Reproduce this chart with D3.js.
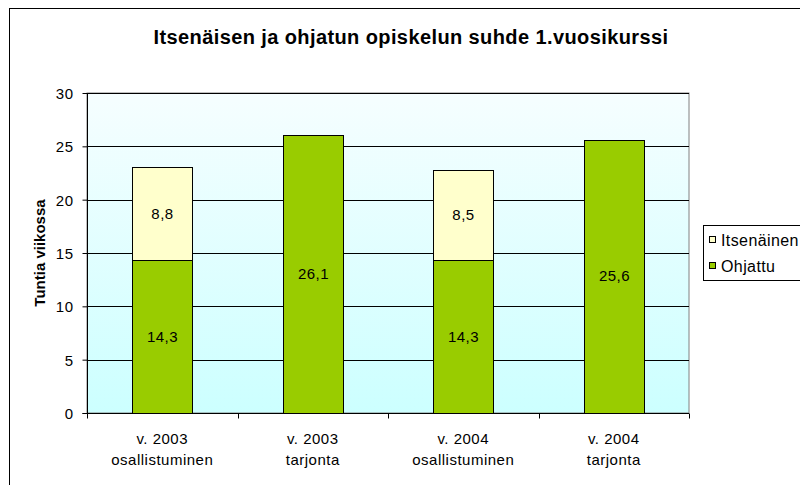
<!DOCTYPE html>
<html><head><meta charset="utf-8">
<script src="https://cdn.jsdelivr.net/npm/d3@7"></script>
<style>body{margin:0;background:#fff}svg{display:block;font-family:"Liberation Sans",Arial,sans-serif}</style>
</head><body><svg id="c" width="800" height="485"></svg>
<script>
const categories = [["v. 2003","osallistuminen"],["v. 2003","tarjonta"],["v. 2004","osallistuminen"],["v. 2004","tarjonta"]];
const ohjattu = [14.3, 26.1, 14.3, 25.6];
const itsenainen = [8.8, 0, 8.5, 0];
const seriesNames = ["Itsenäinen","Ohjattu"];
const yTicks = [0,5,10,15,20,25,30];

const svg = d3.select("#c");
const L=87,R=689,T=93,B=413;
const FS=15, LS=0.5;
svg.append("rect").attr("x",9.5).attr("y",8.5).attr("width",900).attr("height",600).attr("fill","#fff").attr("stroke","#000").attr("stroke-width",1);

const defs = svg.append("defs");
const g = defs.append("linearGradient").attr("id","bg").attr("x1",0).attr("y1",0).attr("x2",0).attr("y2",1);
g.append("stop").attr("offset","0%").attr("stop-color","#f6feff");
g.append("stop").attr("offset","100%").attr("stop-color","#ccffff");

const x = d3.scaleBand().domain(d3.range(categories.length)).range([L,R]).paddingInner(0.6).paddingOuter(0.3);
const xb = d3.scaleBand().domain(d3.range(categories.length)).range([L,R]);
const y = d3.scaleLinear().domain([0,30]).range([B,T]);

svg.append("rect").attr("x",L).attr("y",T).attr("width",R-L).attr("height",B-T).attr("fill","url(#bg)").attr("stroke","#808080");

svg.append("g").selectAll("line").data(yTicks.filter(d=>d>0)).join("line")
  .attr("x1",L).attr("x2",R).attr("y1",d=>Math.round(y(d))+0.5).attr("y2",d=>Math.round(y(d))+0.5).attr("stroke","#000");

const bars = svg.append("g");
function lbl(xp, yp, t){
  bars.append("text").attr("x",xp).attr("y",yp).attr("text-anchor","middle").attr("font-size",FS).attr("letter-spacing",LS).text(t);
}
categories.forEach((c,i)=>{
  const bx = Math.round(x(i))+0.5, bw = Math.round(x.bandwidth());
  const y0=y(0), y1=y(ohjattu[i]);
  bars.append("rect").attr("x",bx).attr("y",Math.round(y1)+0.5).attr("width",bw).attr("height",Math.round(y0)-Math.round(y1)).attr("fill","#99cc00").attr("stroke","#000");
  lbl(bx+bw/2, (y0+y1)/2+5, String(ohjattu[i]).replace(".",","));
  if(itsenainen[i]>0){
    const y2=y(ohjattu[i]+itsenainen[i]);
    bars.append("rect").attr("x",bx).attr("y",Math.round(y2)+0.5).attr("width",bw).attr("height",Math.round(y1)-Math.round(y2)).attr("fill","#ffffcc").attr("stroke","#000");
    lbl(bx+bw/2, (y1+y2)/2+5, String(itsenainen[i]).replace(".",","));
  }
});

// y axis
const ya = svg.append("g").attr("transform",`translate(${L+0.5},0)`).call(d3.axisLeft(y).tickValues(yTicks).tickSize(5).tickPadding(9));
ya.select(".domain").attr("stroke","#000").attr("d",`M-5,${B+0.5}H0V${T}`);
ya.selectAll(".tick line").attr("stroke","#000");
ya.selectAll("text").attr("font-size",FS).attr("letter-spacing",LS).attr("font-family","Liberation Sans, Arial").attr("fill","#000").attr("dy","0.36em");

// x axis
const xa = svg.append("g").attr("transform",`translate(0,${B+0.5})`);
xa.append("line").attr("x1",L).attr("x2",R).attr("stroke","#000");
d3.range(categories.length+1).forEach(i=>{
  const tx = Math.round(L+i*xb.step())+0.5;
  xa.append("line").attr("x1",tx).attr("x2",tx).attr("y1",0).attr("y2",5).attr("stroke","#000");
});
categories.forEach((c,i)=>{
  const cx = xb(i)+xb.bandwidth()/2;
  c.forEach((t,j)=>xa.append("text").attr("x",cx).attr("y",30+j*21).attr("text-anchor","middle").attr("font-size",FS).attr("letter-spacing",LS).text(t));
});

svg.append("text").attr("x",411).attr("y",44).attr("text-anchor","middle").attr("font-size",20).attr("letter-spacing",0.4).attr("font-weight","bold").text("Itsenäisen ja ohjatun opiskelun suhde 1.vuosikurssi");
svg.append("text").attr("transform",`translate(45,${(T+B)/2}) rotate(-90)`).attr("text-anchor","middle").attr("font-size",15).attr("font-weight","bold").text("Tuntia viikossa");

// legend
const lg = svg.append("g");
lg.append("rect").attr("x",703.5).attr("y",225.5).attr("width",200).attr("height",55).attr("fill","#fff").attr("stroke","#000");
const lcol = ["#ffffcc","#99cc00"];
seriesNames.forEach((n,i)=>{
  lg.append("rect").attr("x",709.5).attr("y",236.5+i*26).attr("width",6).attr("height",6).attr("fill",lcol[i]).attr("stroke","#000");
  lg.append("text").attr("x",721).attr("y",246+i*26).attr("font-size",16).attr("letter-spacing",0.4).text(n);
});
</script></body></html>
